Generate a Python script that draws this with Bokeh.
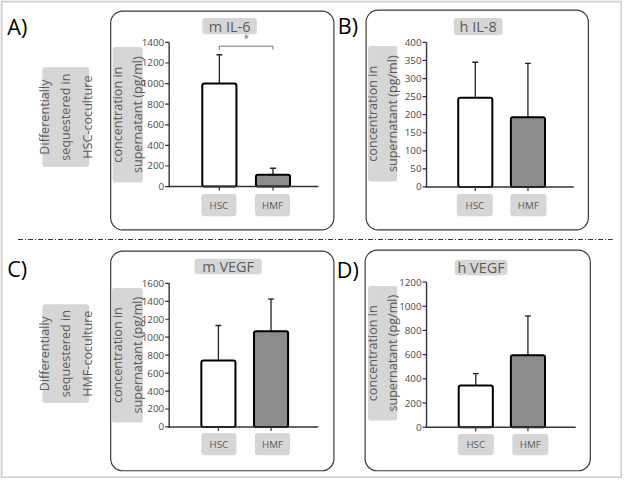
from math import pi
from bokeh.plotting import figure
from bokeh.models import Range1d
from bokeh.core.properties import value
from bokeh.embed import file_html
from bokeh.resources import INLINE

# ---------------- data ----------------
categories = ["HSC", "HMF"]
panel_letters = ["A)", "B)", "C)", "D)"]
titles = ["m IL-6", "h IL-8", "m VEGF", "h VEGF"]
y_label = "concentration in\nsupernatant (pg/ml)"
row_labels = ["Differentially\nsequestered in\nHSC-coculture",
              "Differentially\nsequestered in\nHMF-coculture"]

il6_m_mean = [1000, 115]
il6_m_err = [280, 63]
il8_h_mean = [247, 193]
il8_h_err = [98, 149]
vegf_m_mean = [740, 1065]
vegf_m_err = [390, 360]
vegf_h_mean = [345, 595]
vegf_h_err = [98, 325]

ticks_il6_m = [0, 200, 400, 600, 800, 1000, 1200, 1400]
ticks_il8_h = [0, 50, 100, 150, 200, 250, 300, 350, 400]
ticks_vegf_m = [0, 200, 400, 600, 800, 1000, 1200, 1400, 1600]
ticks_vegf_h = [0, 200, 400, 600, 800, 1000, 1200]

significance = "*"

means = [il6_m_mean, il8_h_mean, vegf_m_mean, vegf_h_mean]
errs = [il6_m_err, il8_h_err, vegf_m_err, vegf_h_err]
ticks = [ticks_il6_m, ticks_il8_h, ticks_vegf_m, ticks_vegf_h]

# ---------------- layout (reference pixel coordinates, y down) ----------------
W, H = 638, 494
def fy(y):
    return H - y

layout = [
    dict(box=(113, 11, 342, 237), axis_x=173, y0=192.3, y1=43.3, c=(224.5, 279.5), x_end=326,
         title_box=(207, 18, 263, 35), ylab_box=(115, 48, 146, 188), cat_y=(200, 223),
         cat_x=((206, 242), (261, 297)), letter=(7, 27)),
    dict(box=(375, 10, 603, 237), axis_x=437, y0=192.7, y1=43.3, c=(487, 541), x_end=588,
         title_box=(465, 18, 515, 36), ylab_box=(377, 47, 407, 187), cat_y=(200, 223),
         cat_x=((468, 505), (523, 560)), letter=(346, 26)),
    dict(box=(113, 259, 342, 486), axis_x=173, y0=440.7, y1=292.3, c=(223.5, 277.5), x_end=326,
         title_box=(199, 267, 268, 283), ylab_box=(114, 297, 146, 436), cat_y=(447, 470),
         cat_x=((206, 242), (261, 297)), letter=(7, 277)),
    dict(box=(374, 258, 605, 486), axis_x=437, y0=441, y1=291, c=(487.5, 541), x_end=590,
         title_box=(466, 268, 520, 284), ylab_box=(377, 295, 407, 434), cat_y=(448, 470),
         cat_x=((469, 506), (525, 562)), letter=(345, 278)),
]
row_boxes = [(43, 69, 91, 172), (43, 314, 91, 416)]

FONT = value("Open Sans")
BOX_FILL = "#d6d6d6"
TEXT_GRAY = "#5c5c5c"
BAR_FILLS = ["white", "#8c8c8c"]

p = figure(width=622, height=478, x_range=Range1d(0, W), y_range=Range1d(0, H),
           output_backend="svg", toolbar_location=None, min_border=0)
p.axis.visible = False
p.grid.visible = False
p.outline_line_color = None
p.background_fill_color = "white"
p.border_fill_color = "white"

def gray_box(b, radius=3):
    l, t, r, bt = b
    p.quad(left=l, right=r, top=fy(t), bottom=fy(bt), fill_color=BOX_FILL,
           line_color=None, border_radius=radius)

# light outer frame
p.quad(left=1, right=W - 1, top=fy(1), bottom=fy(H - 1), fill_color=None,
       line_color="#cfcfcf", line_width=2)

# separator
p.line(x=[18, 628], y=[fy(247), fy(247)], line_color="#333333", line_width=1,
       line_dash="5 2 1 2")

# row labels
for b, txt in zip(row_boxes, row_labels):
    gray_box(b)
    p.text(x=[(b[0] + b[2]) / 2], y=[fy((b[1] + b[3]) / 2)], text=[txt], angle=pi / 2,
           text_align="center", text_baseline="middle", text_font=FONT,
           text_font_size=value("12.6px"), text_color=TEXT_GRAY, text_line_height=1.25)

for i, L in enumerate(layout):
    l, t, r, b = L["box"]
    p.quad(left=l, right=r, top=fy(t), bottom=fy(b), fill_color=None,
           line_color="#3a3a3a", line_width=1.2, border_radius=12)
    # panel letter
    lx, ly = L["letter"]
    p.text(x=[lx], y=[fy(ly)], text=[panel_letters[i]], text_align="left",
           text_baseline="middle", text_font=FONT, text_font_size=value("21.5px"),
           text_color="black")
    # title
    gray_box(L["title_box"])
    tb = L["title_box"]
    p.text(x=[(tb[0] + tb[2]) / 2], y=[fy((tb[1] + tb[3]) / 2)], text=[titles[i]],
           text_align="center", text_baseline="middle", text_font=FONT,
           text_font_size=value("14.5px"), text_color=TEXT_GRAY)
    # y label
    yb = L["ylab_box"]
    gray_box(yb)
    p.text(x=[(yb[0] + yb[2]) / 2], y=[fy((yb[1] + yb[3]) / 2)], text=[y_label], angle=pi / 2,
           text_align="center", text_baseline="middle", text_font=FONT,
           text_font_size=value("12.6px"), text_color=TEXT_GRAY, text_line_height=1.2)
    # category label boxes
    for (cx0, cx1), cat in zip(L["cat_x"], categories):
        gray_box((cx0, L["cat_y"][0], cx1, L["cat_y"][1]))
        p.text(x=[(cx0 + cx1) / 2], y=[fy((L["cat_y"][0] + L["cat_y"][1]) / 2)], text=[cat],
               text_align="center", text_baseline="middle", text_font=FONT,
               text_font_size=value("9.8px"), text_color=TEXT_GRAY)

    # data subplot
    c1, c2 = L["c"]
    unit = c2 - c1
    ymax = ticks[i][-1]
    sp = p.subplot(x_source=Range1d(0, 3), y_source=Range1d(0, ymax),
                   x_target=Range1d(c1 - unit, c2 + unit),
                   y_target=Range1d(fy(L["y0"]), fy(L["y1"])))
    ax = (L["axis_x"] - (c1 - unit)) / unit
    xe = (L["x_end"] - (c1 - unit)) / unit
    pos = [k + 1 for k in range(len(categories))]
    bw = 35 / unit

    # error bars
    tops = [m + e for m, e in zip(means[i], errs[i])]
    sp.segment(x0=pos, y0=means[i], x1=pos, y1=tops, line_color="#222222", line_width=1.3)
    cap = 3 / unit
    sp.segment(x0=[x - cap for x in pos], y0=tops, x1=[x + cap for x in pos], y1=tops,
               line_color="#222222", line_width=1.3)
    # bars
    sp.vbar(x=pos, top=means[i], bottom=0, width=bw, fill_color=BAR_FILLS,
            line_color="black", line_width=2, border_radius=2)

    # axes
    sp.segment(x0=[ax], y0=[0], x1=[ax], y1=[ymax], line_color="#333333", line_width=1.4)
    sp.segment(x0=[ax - 0.02], y0=[0], x1=[xe], y1=[0], line_color="#333333", line_width=1.4)
    sp.ray(x=[ax] * len(ticks[i]), y=ticks[i], length=4, angle=pi, length_units="screen",
           line_color="#333333", line_width=1.2)
    sp.ray(x=pos, y=[0] * len(pos), length=4, angle=-pi / 2, length_units="screen",
           line_color="#333333", line_width=1.2)
    sp.text(x=[ax] * len(ticks[i]), y=ticks[i], text=[str(v) for v in ticks[i]],
            x_offset=-5, text_align="right", text_baseline="middle", text_font=FONT,
            text_font_size=value("9.8px"), text_color="#4a4a4a")

    # significance bracket for panel A
    if i == 0:
        by = 1363
        drop = 35
        sp.line(x=[pos[0], pos[0], pos[1], pos[1]], y=[by - drop, by, by, by - drop],
                line_color="#777777", line_width=1)
        sp.text(x=[(pos[0] + pos[1]) / 2], y=[by + 15], text=[significance],
                text_align="center", text_baseline="bottom", text_font=FONT,
                text_font_size=value("10px"), text_color="#777777")

open("out.html", "w").write(file_html(p, INLINE))
